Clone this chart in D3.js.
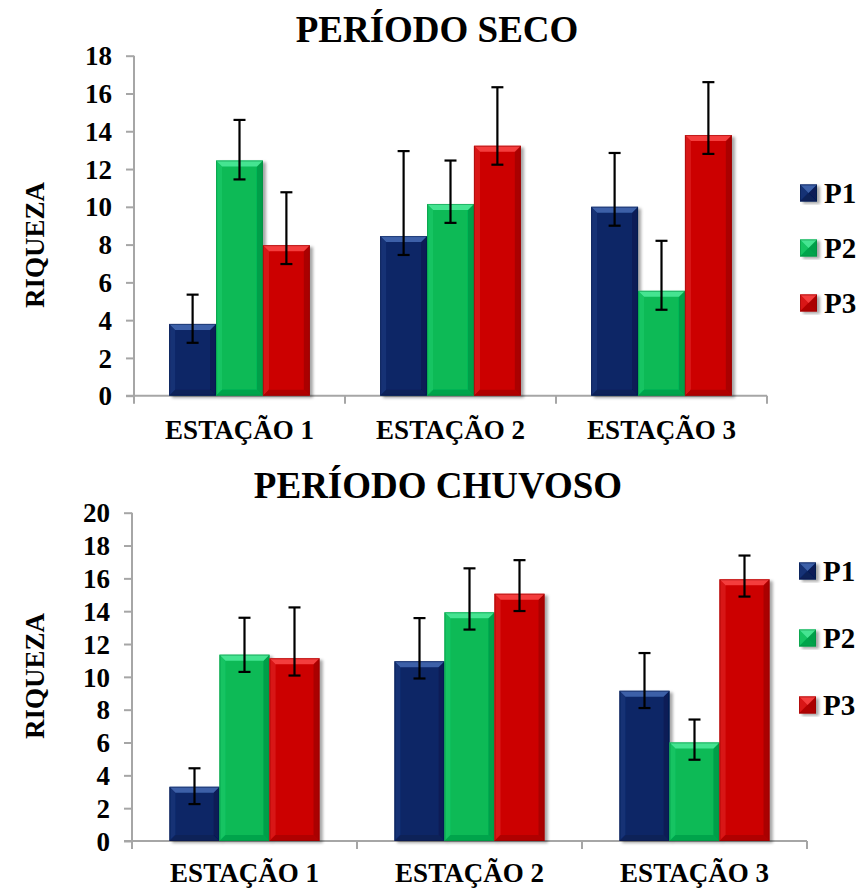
<!DOCTYPE html>
<html>
<head>
<meta charset="utf-8">
<script src="https://cdn.jsdelivr.net/npm/d3@7"></script>
<style>
  html, body { margin: 0; padding: 0; background: #ffffff; }
  svg { display: block; }
  text { font-family: "Liberation Serif", "Tinos", "Times New Roman", "DejaVu Serif", "Noto Serif", serif; font-weight: bold; fill: #000; }
</style>
</head>
<body>
<svg id="chart" width="861" height="889"></svg>
<script>
// ---------- DATA ----------
const stations = ["ESTAÇÃO 1", "ESTAÇÃO 2", "ESTAÇÃO 3"];
const seriesNames = ["P1", "P2", "P3"];

// Período seco
const secoP1 = [3.8, 8.45, 10.0];
const secoP2 = [12.45, 10.15, 5.55];
const secoP3 = [7.97, 13.23, 13.8];
const secoErrPlusP1 = [1.55, 4.5, 2.85];
const secoErrPlusP2 = [2.15, 2.3, 2.65];
const secoErrPlusP3 = [2.8, 3.1, 2.8];
const secoErrMinus = [1.0, 1.0, 1.0];
const secoTicks = [0, 2, 4, 6, 8, 10, 12, 14, 16, 18];

// Período chuvoso
const chuvP1 = [3.3, 10.95, 9.15];
const chuvP2 = [11.35, 13.93, 6.0];
const chuvP3 = [11.13, 15.06, 15.94];
const chuvErrPlusP1 = [1.13, 2.63, 2.3];
const chuvErrPlusP2 = [2.25, 2.68, 1.4];
const chuvErrPlusP3 = [3.1, 2.05, 1.45];
const chuvErrMinus = [1.05, 1.05, 1.05];
const chuvTicks = [0, 2, 4, 6, 8, 10, 12, 14, 16, 18, 20];

const colors = {
  P1: { base: "#0b2566", top: "#3d61a8", dark: "#061a4a", side: "#143074" },
  P2: { base: "#07ba57", top: "#45e491", dark: "#03893d", side: "#12c462" },
  P3: { base: "#cc0303", top: "#f43c3c", dark: "#8e0000", side: "#d81414" }
};
const FONT = '"Liberation Serif", "Tinos", "Times New Roman", "DejaVu Serif", "Noto Serif", serif';

// ---------- DRAW ----------
const svg = d3.select("#chart");
const defs = svg.append("defs");
const f = defs.append("filter").attr("id", "shadow").attr("x", "-20%").attr("y", "-10%").attr("width", "150%").attr("height", "130%");
f.append("feDropShadow").attr("dx", 3).attr("dy", 2).attr("stdDeviation", 1.8)
  .attr("flood-color", "#000").attr("flood-opacity", 0.35);

function bevelBar(g, x, y, w, h, c, bev) {
  const b = Math.min(bev, h / 2, w / 2);
  const grp = g.append("g").attr("filter", "url(#shadow)");
  grp.append("rect").attr("x", x).attr("y", y).attr("width", w).attr("height", h).attr("fill", c.base);
  grp.append("polygon").attr("points", [[x, y], [x + b, y + b], [x + b, y + h - b], [x, y + h]].map(p => p.join(",")).join(" "))
    .attr("fill", c.side);
  grp.append("polygon").attr("points", [[x + w, y], [x + w - b, y + b], [x + w - b, y + h - b], [x + w, y + h]].map(p => p.join(",")).join(" "))
    .attr("fill", c.dark).attr("opacity", 0.55);
  grp.append("polygon").attr("points", [[x, y + h], [x + b, y + h - b], [x + w - b, y + h - b], [x + w, y + h]].map(p => p.join(",")).join(" "))
    .attr("fill", c.dark).attr("opacity", 0.45);
  grp.append("polygon").attr("points", [[x, y], [x + w, y], [x + w - b, y + b], [x + b, y + b]].map(p => p.join(",")).join(" "))
    .attr("fill", c.top);
  grp.append("rect").attr("x", x + 0.5).attr("y", y + 0.5).attr("width", w - 1).attr("height", h - 1)
    .attr("fill", "none").attr("stroke", c.dark).attr("stroke-opacity", 0.5).attr("stroke-width", 1);
}

function drawChart(cfg) {
  const g = svg.append("g");
  const x0 = d3.scaleBand().domain(stations).range([cfg.left, cfg.right])
    .paddingInner(1 / 3).paddingOuter(1 / 6);
  const x1 = d3.scaleBand().domain(seriesNames).range([0, x0.bandwidth()]);
  const y = d3.scaleLinear().domain([0, cfg.ymax]).range([cfg.bottom, cfg.top]);
  const axisColor = "#a6a6a6";

  const yAxis = d3.axisLeft(y).tickValues(cfg.ticks).tickSize(8).tickPadding(14).tickFormat(d3.format("d"));
  const ya = g.append("g").attr("transform", `translate(${cfg.left},0)`).call(yAxis);
  ya.attr("font-family", null).attr("font-size", null);
  ya.select(".domain").attr("stroke", axisColor).attr("stroke-width", 2)
    .attr("d", `M0,${cfg.top}V${cfg.bottom + 8}`);
  ya.selectAll(".tick line").attr("stroke", axisColor).attr("stroke-width", 2);
  ya.selectAll(".tick text").style("font-size", "27px").style("font-family", FONT).style("font-weight", "bold").attr("dy", "0.34em");

  const step = x0.step();
  const bounds = stations.map(s => x0(s) - step * x0.paddingInner() / 2).concat([cfg.right]);
  g.append("line").attr("x1", cfg.left - 8).attr("x2", cfg.right).attr("y1", cfg.bottom).attr("y2", cfg.bottom)
    .attr("stroke", axisColor).attr("stroke-width", 2);
  g.selectAll(".sep").data(bounds.slice(1)).join("line")
    .attr("x1", d => d).attr("x2", d => d).attr("y1", cfg.bottom).attr("y2", cfg.bottom + 8)
    .attr("stroke", axisColor).attr("stroke-width", 2);

  cfg.series.forEach((vals, si) => {
    const name = seriesNames[si];
    vals.forEach((v, ci) => {
      const xb = x0(stations[ci]) + x1(name);
      const w = x1.bandwidth();
      bevelBar(g, xb, y(v), w, y(0) - y(v), colors[name], 6);
    });
  });
  cfg.series.forEach((vals, si) => {
    const name = seriesNames[si];
    vals.forEach((v, ci) => {
      const cx = x0(stations[ci]) + x1(name) + x1.bandwidth() / 2;
      const hi = y(v + cfg.errPlus[si][ci]);
      const lo = y(v - cfg.errMinus[ci]);
      const eg = g.append("g").attr("stroke", "#000").attr("stroke-width", 2.2);
      eg.append("line").attr("x1", cx).attr("x2", cx).attr("y1", hi).attr("y2", lo);
      eg.append("line").attr("x1", cx - 6).attr("x2", cx + 6).attr("y1", hi).attr("y2", hi);
      eg.append("line").attr("x1", cx - 6).attr("x2", cx + 6).attr("y1", lo).attr("y2", lo);
    });
  });

  g.selectAll(".cat").data(stations).join("text")
    .attr("x", d => x0(d) + x0.bandwidth() / 2).attr("y", cfg.catY)
    .attr("text-anchor", "middle").style("font-family", FONT).style("font-size", "27px").text(d => d);

  g.append("text").attr("x", cfg.titleX).attr("y", cfg.titleY).attr("text-anchor", "middle")
    .style("font-family", FONT).style("font-size", "37px").text(cfg.title);

  g.append("text").attr("transform", `translate(${cfg.ylabX},${cfg.ylabY}) rotate(-90)`)
    .attr("text-anchor", "middle").style("font-family", FONT).style("font-size", "27px").text("RIQUEZA");

  seriesNames.forEach((n, i) => {
    const ly = cfg.legY[i];
    bevelBar(g, cfg.legX, ly - 8.5, 17, 17, colors[n], 8.5);
    g.append("text").attr("x", cfg.legX + 24).attr("y", ly).attr("dy", "0.35em")
      .style("font-family", FONT).style("font-size", "29px").text(n);
  });
}

drawChart({
  title: "PERÍODO SECO", titleX: 437, titleY: 42,
  left: 134, right: 767, top: 55.7, bottom: 395.7, ymax: 18, ticks: secoTicks,
  series: [secoP1, secoP2, secoP3],
  errPlus: [secoErrPlusP1, secoErrPlusP2, secoErrPlusP3], errMinus: secoErrMinus,
  catY: 439, ylabX: 44, ylabY: 245,
  legX: 800, legY: [193, 248, 303]
});

drawChart({
  title: "PERÍODO CHUVOSO", titleX: 438, titleY: 498,
  left: 132, right: 807, top: 512.7, bottom: 841, ymax: 20, ticks: chuvTicks,
  series: [chuvP1, chuvP2, chuvP3],
  errPlus: [chuvErrPlusP1, chuvErrPlusP2, chuvErrPlusP3], errMinus: chuvErrMinus,
  catY: 882, ylabX: 44, ylabY: 676,
  legX: 799, legY: [571, 638, 705]
});
</script>
</body>
</html>
